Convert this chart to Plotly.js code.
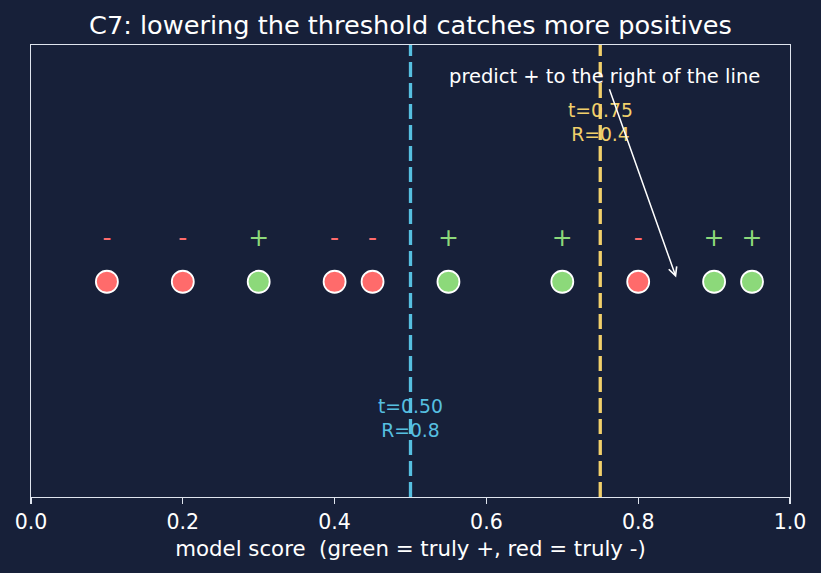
<!DOCTYPE html>
<html><head><meta charset="utf-8">
<script src="https://cdn.plot.ly/plotly-3.0.1.min.js"></script>
<style>body{margin:0;background:#172039;}#c{width:821px;height:573px;}</style>
</head><body><div id="c"></div>
<script>
const scores = [0.1, 0.2, 0.3, 0.4, 0.45, 0.55, 0.7, 0.8, 0.9, 0.95];
const truth = [0, 0, 1, 0, 0, 1, 1, 0, 1, 1];
const thresholds = [0.5, 0.75];
const recalls = [0.8, 0.4];
const thresholdColors = ['#56bfe0', '#f2d06b'];
const thresholdLabelY = [-0.635, 0.74];
const pointY = 0;
const signY = 0.195;

const RED = '#ff6b6b', GREEN = '#8cd97a';
const BG = '#172039', FG = '#dfe4ee';

const ptColors = truth.map(t => t ? GREEN : RED);
const traces = [
  {x: scores, y: scores.map(() => pointY), mode: 'markers', type: 'scatter',
   marker: {size: 22, color: ptColors, line: {color: '#ffffff', width: 1.8}},
   hoverinfo: 'skip', showlegend: false},
  {x: scores, y: scores.map(() => signY), mode: 'text', type: 'scatter',
   text: truth.map(t => t ? '+' : '-'),
   textfont: {family: 'DejaVu Sans', size: 25, color: ptColors},
   hoverinfo: 'skip', showlegend: false}
];

const shapes = thresholds.map((t, i) => ({
  type: 'line', xref: 'x', yref: 'paper', x0: t, x1: t, y0: 0, y1: 1,
  line: {color: thresholdColors[i], width: 3.3, dash: '15px,6px'}, layer: 'above'
}));

const annotations = thresholds.map((t, i) => ({
  x: t, y: thresholdLabelY[i], xref: 'x', yref: 'y', showarrow: false,
  text: 't=' + t.toFixed(2) + '<br>R=' + recalls[i],
  font: {family: 'DejaVu Sans', size: 18.8, color: thresholdColors[i]},
  align: 'center'
}));
annotations.push({
  x: 0.85, y: 0.02, xref: 'x', yref: 'y', ax: 0.756, ay: 0.955, axref: 'x', ayref: 'y',
  text: 'predict + to the right of the line', showarrow: true,
  arrowhead: 5, arrowsize: 1.1, arrowwidth: 1.5, arrowcolor: '#ffffff',
  font: {family: 'DejaVu Sans', size: 19.5, color: '#ffffff'}, standoff: 0
});

const layout = {
  width: 821, height: 573,
  paper_bgcolor: BG, plot_bgcolor: BG,
  margin: {l: 31, r: 31, t: 45, b: 76},
  title: {text: 'C7: lowering the threshold catches more positives',
          font: {family: 'DejaVu Sans', size: 25.6, color: '#ffffff'},
          x: 0.5, xanchor: 'center', y: 1 - 25/573, yanchor: 'middle'},
  xaxis: {range: [0, 1], tickvals: [0, 0.2, 0.4, 0.6, 0.8, 1.0],
          ticktext: ['0.0', '0.2', '0.4', '0.6', '0.8', '1.0'],
          ticks: 'outside', ticklen: 6, tickwidth: 1.3, tickcolor: FG,
          showgrid: false, zeroline: false, showline: true, linecolor: FG, linewidth: 1.4,
          mirror: true,
          tickfont: {family: 'DejaVu Sans', size: 20.5, color: '#ffffff'},
          title: {text: 'model score  (green = truly +, red = truly -)',
                  font: {family: 'DejaVu Sans', size: 21.3, color: '#ffffff'}, standoff: 8}},
  yaxis: {range: [-1, 1.1], showticklabels: false, ticks: '', showgrid: false,
          zeroline: false, showline: true, linecolor: FG, linewidth: 1.4, mirror: true},
  shapes: shapes,
  annotations: annotations
};
Plotly.newPlot('c', traces, layout, {displayModeBar: false, staticPlot: true});
</script></body></html>
